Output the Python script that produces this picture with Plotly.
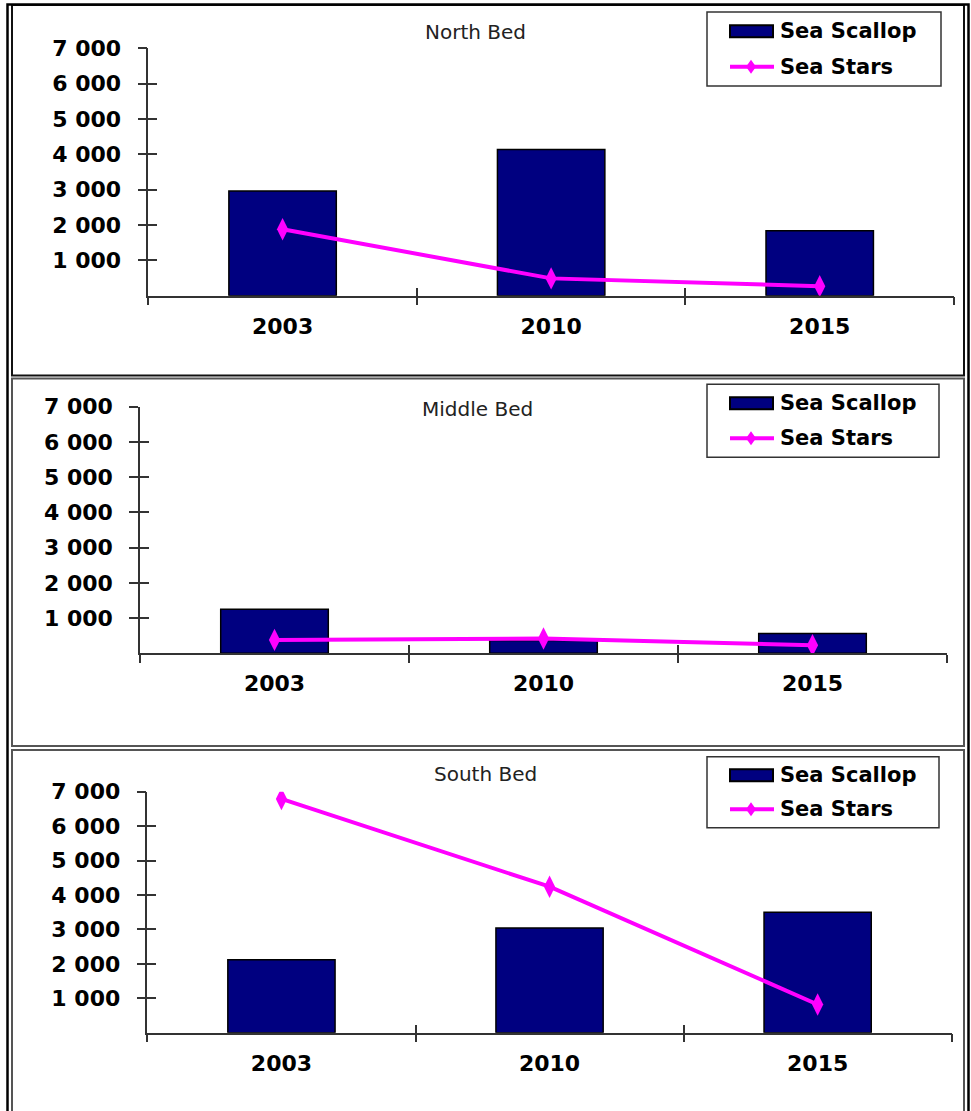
import plotly.graph_objects as go

# --- data ---
years = ["2003", "2010", "2015"]
bed_names = ["North Bed", "Middle Bed", "South Bed"]
series_names = ["Sea Scallop", "Sea Stars"]

scallop_north = [2960, 4140, 1840]
stars_north = [1880, 490, 270]
scallop_middle = [1250, 360, 560]
stars_middle = [380, 420, 230]
scallop_south = [2120, 3040, 3500]
stars_south = [6790, 4240, 820]

y_tickvals = [1000, 2000, 3000, 4000, 5000, 6000, 7000]
y_ticktext = ["1 000", "2 000", "3 000", "4 000", "5 000", "6 000", "7 000"]
y_max = 7000

W, H = 971, 1111
NAVY = "#000080"
MAGENTA = "#FF00FF"
AXIS = "#333333"
FONT = "DejaVu Sans"


def px(x):
    return x / W


def py(y):
    return 1 - y / H


# pixel layout of each panel: plot box, legend box, title centre, frame
panels = [
    dict(scallop=scallop_north, stars=stars_north, title=bed_names[0],
         plot=(148.3, 954, 48.3, 295.7), legend=(707, 941, 12, 86),
         title_xy=(475, 32), frame=(12, 964, 5, 375.5), frame_color="#111111"),
    dict(scallop=scallop_middle, stars=stars_middle, title=bed_names[1],
         plot=(140, 947, 406.7, 653.3), legend=(707, 939, 384.3, 457.3),
         title_xy=(477, 409), frame=(12, 964, 378.5, 746), frame_color="#555555"),
    dict(scallop=scallop_south, stars=stars_south, title=bed_names[2],
         plot=(147.4, 951.7, 791.7, 1032.7), legend=(707, 939, 756.7, 827.7),
         title_xy=(485, 774), frame=(12, 964, 750, 1120), frame_color="#555555"),
]

fig = go.Figure()
layout_axes = {}
shapes = []
annotations = []

tick_font = dict(family=FONT, size=22, color="black", weight="bold")

for i, p in enumerate(panels):
    n = i + 1
    xid = "x" if n == 1 else f"x{n}"
    yid = "y" if n == 1 else f"y{n}"
    xo, yo = f"x{n + 3}", f"y{n + 3}"
    x0, x1, y0, y1 = p["plot"]

    fig.add_trace(go.Bar(
        x=years, y=p["scallop"], name=series_names[0],
        xaxis=xid, yaxis=yid, showlegend=False,
        marker=dict(color=NAVY, line=dict(color="black", width=1.5)),
    ))
    fig.add_trace(go.Scatter(
        x=years, y=p["stars"], name=series_names[1],
        xaxis=xid, yaxis=yid, showlegend=False, mode="lines+markers",
        line=dict(color=MAGENTA, width=4),
        marker=dict(symbol="diamond-tall", size=16, color=MAGENTA),
    ))
    # empty trace so the overlay axes (crossing ticks) get drawn
    fig.add_trace(go.Scatter(x=[None], y=[None], xaxis=xo, yaxis=yo,
                             showlegend=False, hoverinfo="skip", mode="markers"))

    xdom = [px(x0), px(x1)]
    ydom = [py(y1), py(y0)]
    layout_axes["xaxis" if n == 1 else f"xaxis{n}"] = dict(
        domain=xdom, anchor=yid, type="category", categoryarray=years,
        range=[-0.5, 2.5], showline=True, linecolor=AXIS, linewidth=1.5,
        ticks="outside", tickson="boundaries", ticklen=8, tickwidth=1.5,
        tickcolor=AXIS, tickfont=tick_font, ticklabelstandoff=10,
        showgrid=False, zeroline=False, fixedrange=True, automargin=False,
    )
    layout_axes["yaxis" if n == 1 else f"yaxis{n}"] = dict(
        domain=ydom, anchor=xid, range=[0, y_max],
        tickvals=y_tickvals, ticktext=y_ticktext,
        showline=True, linecolor=AXIS, linewidth=1.5,
        ticks="outside", ticklen=9, tickwidth=1.5, tickcolor=AXIS,
        tickfont=tick_font, ticklabelstandoff=12,
        showgrid=False, zeroline=False, fixedrange=True, automargin=False,
    )
    layout_axes[f"xaxis{n + 3}"] = dict(
        overlaying=xid, anchor=yo, type="linear", range=[-0.5, 2.5],
        tickvals=[-0.5, 0.5, 1.5, 2.5], ticks="inside", ticklen=8,
        tickwidth=1.5, tickcolor=AXIS, showticklabels=False,
        showline=False, showgrid=False, zeroline=False, fixedrange=True,
        automargin=False,
    )
    layout_axes[f"yaxis{n + 3}"] = dict(
        overlaying=yid, anchor=xo, range=[0, y_max],
        tickvals=y_tickvals, ticks="inside", ticklen=9, tickwidth=1.5,
        tickcolor=AXIS, showticklabels=False, showline=False,
        showgrid=False, zeroline=False, fixedrange=True, automargin=False,
    )

    # panel frame
    fx0, fx1, fy0, fy1 = p["frame"]
    shapes.append(dict(type="rect", xref="paper", yref="paper",
                       x0=px(fx0), x1=px(fx1), y0=py(fy1), y1=py(fy0),
                       line=dict(color=p["frame_color"], width=2), layer="below"))

    # title
    tx, ty = p["title_xy"]
    annotations.append(dict(text=p["title"], x=px(tx), y=py(ty),
                            xref="paper", yref="paper", showarrow=False,
                            xanchor="center", yanchor="middle",
                            font=dict(family=FONT, size=20, color="#222222")))

    # legend box
    lx0, lx1, ly0, ly1 = p["legend"]
    shapes.append(dict(type="rect", xref="paper", yref="paper",
                       x0=px(lx0), x1=px(lx1), y0=py(ly1), y1=py(ly0),
                       line=dict(color=AXIS, width=1.5), fillcolor="white"))
    row1 = ly0 + (ly1 - ly0) * 0.26
    row2 = ly0 + (ly1 - ly0) * 0.74
    shapes.append(dict(type="rect", xref="paper", yref="paper",
                       x0=px(lx0 + 23), x1=px(lx0 + 66),
                       y0=py(row1 + 6), y1=py(row1 - 6),
                       line=dict(color="black", width=2), fillcolor=NAVY))
    shapes.append(dict(type="line", xref="paper", yref="paper",
                       x0=px(lx0 + 23), x1=px(lx0 + 67), y0=py(row2), y1=py(row2),
                       line=dict(color=MAGENTA, width=4)))
    dx, dy = lx0 + 44, row2
    shapes.append(dict(type="path", xref="paper", yref="paper",
                       path=(f"M {px(dx - 5)} {py(dy)} L {px(dx)} {py(dy - 7)} "
                             f"L {px(dx + 5)} {py(dy)} L {px(dx)} {py(dy + 7)} Z"),
                       fillcolor=MAGENTA, line=dict(color=MAGENTA, width=0)))
    for name, ry in zip(series_names, [row1, row2]):
        annotations.append(dict(text=name, x=px(lx0 + 71), y=py(ry),
                                xref="paper", yref="paper", showarrow=False,
                                xanchor="left", yanchor="middle",
                                font=dict(family=FONT, size=21, color="black",
                                          weight="bold")))

# outer frame (open at the bottom)
shapes.append(dict(type="rect", xref="paper", yref="paper",
                   x0=px(7.5), x1=px(968.5), y0=py(1125), y1=py(4.5),
                   line=dict(color="black", width=2.5), layer="below"))

fig.update_layout(
    width=W, height=H,
    margin=dict(l=0, r=0, t=0, b=0, pad=0, autoexpand=False),
    paper_bgcolor="white", plot_bgcolor="white",
    bargap=0.6, showlegend=False,
    shapes=shapes, annotations=annotations,
    **layout_axes,
)

fig.write_html(
    "out.html",
    config={"displayModeBar": False},
    post_script="document.body.style.margin='0';document.body.style.overflow='hidden';",
)
